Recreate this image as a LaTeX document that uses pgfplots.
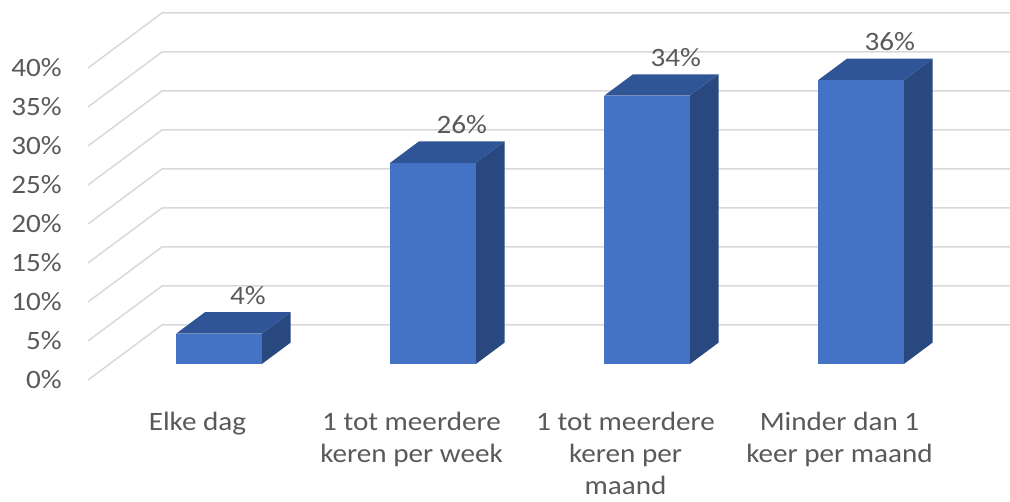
\documentclass[border=0pt]{standalone}
\usepackage{fontspec}
\setmainfont{Carlito}[FakeStretch=1.1]
\usepackage{pgfplots}
\pgfplotsset{compat=1.18}
\definecolor{frontc}{HTML}{4472C4}
\definecolor{topc}{HTML}{2F5597}
\definecolor{sidec}{HTML}{29487F}
\definecolor{gridc}{HTML}{D9D9D9}
\definecolor{txt}{HTML}{595959}
\begin{document}
\begin{tikzpicture}
\useasboundingbox (-197.5pt,-122pt) rectangle (812.5pt,380pt);
\begin{axis}[
  at={(0pt,0pt)}, anchor=origin,
  x={(214pt,0pt)}, y={(74pt,55pt)}, z={(0pt,7.8pt)},
  xmin=-0.5117, xmax=3.45, ymin=0, ymax=1, zmin=0, zmax=40,
  hide axis, clip=false,
  every axis plot/.append style={no markers},
]
% grid lines (left wall diagonal + back wall horizontal)
\addplot3[gridc, line width=1.5pt] coordinates {(-0.5117,0,0) (-0.5117,1,0) (3.45,1,0)};
\addplot3[gridc, line width=1.5pt] coordinates {(-0.5117,0,5) (-0.5117,1,5) (3.45,1,5)};
\addplot3[gridc, line width=1.5pt] coordinates {(-0.5117,0,10) (-0.5117,1,10) (3.45,1,10)};
\addplot3[gridc, line width=1.5pt] coordinates {(-0.5117,0,15) (-0.5117,1,15) (3.45,1,15)};
\addplot3[gridc, line width=1.5pt] coordinates {(-0.5117,0,20) (-0.5117,1,20) (3.45,1,20)};
\addplot3[gridc, line width=1.5pt] coordinates {(-0.5117,0,25) (-0.5117,1,25) (3.45,1,25)};
\addplot3[gridc, line width=1.5pt] coordinates {(-0.5117,0,30) (-0.5117,1,30) (3.45,1,30)};
\addplot3[gridc, line width=1.5pt] coordinates {(-0.5117,0,35) (-0.5117,1,35) (3.45,1,35)};
\addplot3[gridc, line width=1.5pt] coordinates {(-0.5117,0,40) (-0.5117,1,40) (3.45,1,40)};
% bar 1: Elke dag (3.9)
\addplot3[fill=sidec, draw=none] coordinates {(0.2,0.29,0) (0.2,0.68,0) (0.2,0.68,3.9) (0.2,0.29,3.9)} -- cycle;
\addplot3[fill=topc, draw=none] coordinates {(-0.2,0.29,3.9) (0.2,0.29,3.9) (0.2,0.68,3.9) (-0.2,0.68,3.9)} -- cycle;
\addplot3[fill=frontc, draw=none] coordinates {(-0.2,0.29,0) (0.2,0.29,0) (0.2,0.29,3.9) (-0.2,0.29,3.9)} -- cycle;
% bar 2 (25.8)
\addplot3[fill=sidec, draw=none] coordinates {(1.2,0.29,0) (1.2,0.68,0) (1.2,0.68,25.8) (1.2,0.29,25.8)} -- cycle;
\addplot3[fill=topc, draw=none] coordinates {(0.8,0.29,25.8) (1.2,0.29,25.8) (1.2,0.68,25.8) (0.8,0.68,25.8)} -- cycle;
\addplot3[fill=frontc, draw=none] coordinates {(0.8,0.29,0) (1.2,0.29,0) (1.2,0.29,25.8) (0.8,0.29,25.8)} -- cycle;
% bar 3 (34.4)
\addplot3[fill=sidec, draw=none] coordinates {(2.2,0.29,0) (2.2,0.68,0) (2.2,0.68,34.4) (2.2,0.29,34.4)} -- cycle;
\addplot3[fill=topc, draw=none] coordinates {(1.8,0.29,34.4) (2.2,0.29,34.4) (2.2,0.68,34.4) (1.8,0.68,34.4)} -- cycle;
\addplot3[fill=frontc, draw=none] coordinates {(1.8,0.29,0) (2.2,0.29,0) (2.2,0.29,34.4) (1.8,0.29,34.4)} -- cycle;
% bar 4 (36.4)
\addplot3[fill=sidec, draw=none] coordinates {(3.2,0.29,0) (3.2,0.68,0) (3.2,0.68,36.4) (3.2,0.29,36.4)} -- cycle;
\addplot3[fill=topc, draw=none] coordinates {(2.8,0.29,36.4) (3.2,0.29,36.4) (3.2,0.68,36.4) (2.8,0.68,36.4)} -- cycle;
\addplot3[fill=frontc, draw=none] coordinates {(2.8,0.29,0) (3.2,0.29,0) (3.2,0.29,36.4) (2.8,0.29,36.4)} -- cycle;
% data labels
\addplot3[draw=none, point meta=explicit symbolic, nodes near coords,
  every node near coord/.style={anchor=center, yshift=17pt, text=txt,
    font=\fontsize{26.5}{32}\selectfont}]
  coordinates {(0,0.68,3.9) [4\%] (1,0.68,25.8) [26\%] (2,0.68,34.4) [34\%] (3,0.68,36.4) [36\%]};
\end{axis}
\begin{axis}[
  at={(0pt,0pt)}, anchor=origin,
  x={(214pt,0pt)}, y={(0pt,7.8pt)},
  xmin=-0.5117, xmax=3.45, ymin=0, ymax=40,
  axis line style={draw=none}, major tick length=0pt,
  xtick={0,1,2,3},
  xticklabels={Elke dag, 1 tot meerdere\\keren per week, 1 tot meerdere\\keren per\\maand, Minder dan 1\\keer per maand},
  ytick={0,5,...,40},
  yticklabels={0\%,5\%,10\%,15\%,20\%,25\%,30\%,35\%,40\%},
  tick label style={font=\fontsize{26.5}{32}\selectfont, text=txt},
  xticklabel style={align=center, anchor=north, inner sep=0pt, yshift=-32pt},
  yticklabel style={anchor=east, inner sep=0pt, xshift=-26pt},
]
\end{axis}
\end{tikzpicture}
\end{document}
